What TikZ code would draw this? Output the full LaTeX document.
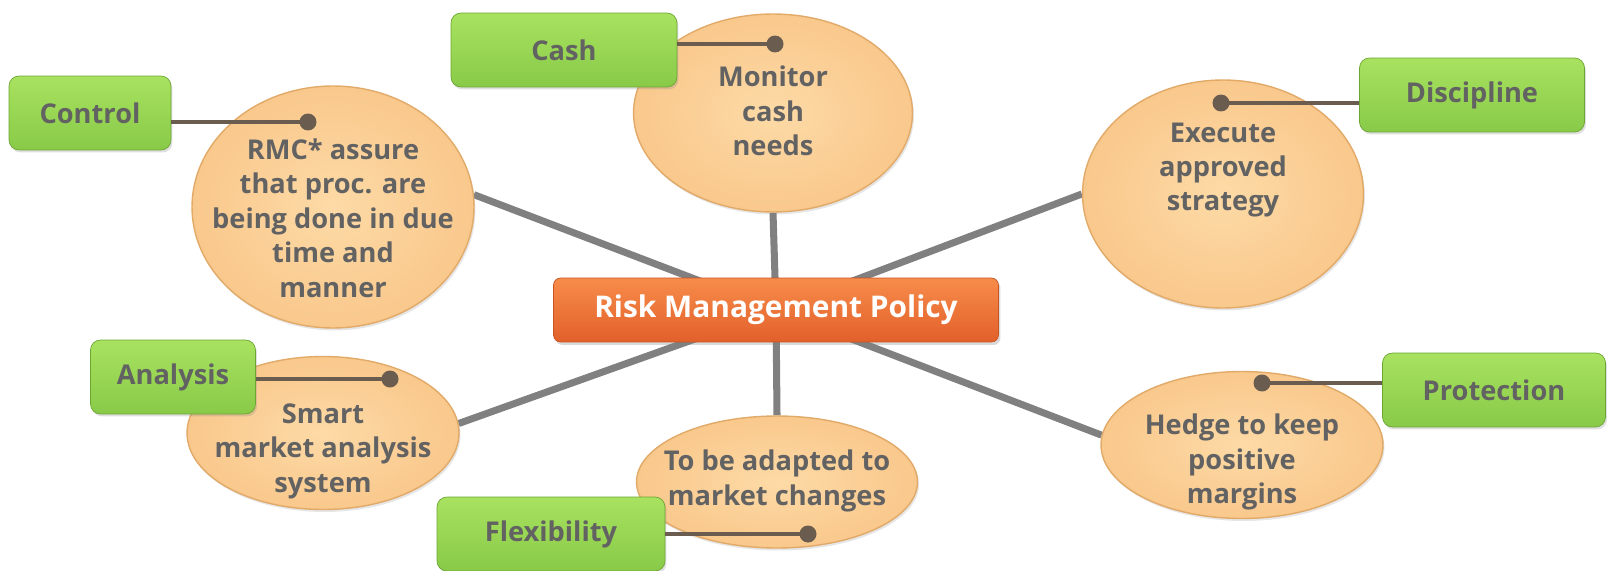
\documentclass[tikz,border=0pt]{standalone}
\usepackage{fontspec}
\setmainfont{Open Sans}
\usetikzlibrary{shapes.geometric, shadows, backgrounds}

\definecolor{txtgray}{RGB}{98,98,98}
\definecolor{hubtop}{RGB}{247,140,74}
\definecolor{hubbot}{RGB}{226,96,42}
\definecolor{hubedge}{RGB}{200,84,32}
\definecolor{ideain}{RGB}{253,218,166}
\definecolor{ideaout}{RGB}{249,200,140}
\definecolor{ideaedge}{RGB}{226,170,104}
\definecolor{tagtop}{RGB}{168,226,96}
\definecolor{tagbot}{RGB}{136,202,72}
\definecolor{tagedge}{RGB}{108,166,50}
\definecolor{spokegray}{RGB}{128,128,128}
\definecolor{linkbrown}{RGB}{106,92,78}

\tikzstyle{hub} = [rectangle, rounded corners=4pt, minimum width=8.9cm, minimum height=1.28cm, draw=hubedge, top color=hubtop, bottom color=hubbot, text=white, font=\bfseries\fontsize{17}{20}\selectfont, drop shadow={opacity=0.3, shadow xshift=0.04cm, shadow yshift=-0.06cm}]
\tikzstyle{idea} = [ellipse, inner sep=0pt, draw=ideaedge, line width=0.8pt, inner color=ideain, outer color=ideaout, drop shadow={opacity=0.2, shadow xshift=0.03cm, shadow yshift=-0.05cm}]
\tikzstyle{ideatext} = [align=center, text=txtgray, font=\bfseries\fontsize{15.5}{19.6}\selectfont]
\tikzstyle{tag} = [rectangle, rounded corners=0.2cm, minimum height=1.48cm, draw=tagedge, top color=tagtop, bottom color=tagbot, text=txtgray, font=\bfseries\fontsize{15.5}{19.6}\selectfont, drop shadow={opacity=0.25, shadow xshift=0.03cm, shadow yshift=-0.05cm}]
\tikzstyle{spoke} = [line width=4pt, draw=spokegray]
\tikzstyle{link} = [line width=2.8pt, draw=linkbrown]

\begin{document}
\begin{tikzpicture}[x=0.02cm, y=-0.02cm]
\useasboundingbox (0,0) rectangle (1609,571);

% ideas round the policy
\node (ctrlidea) [idea, minimum width=5.64cm, minimum height=4.84cm] at (333,207) {};
\node (cashidea) [idea, minimum width=5.58cm, minimum height=3.96cm] at (773,113) {};
\node (discidea) [idea, minimum width=5.62cm, minimum height=4.56cm] at (1223,194) {};
\node (anlsidea) [idea, minimum width=5.44cm, minimum height=3.06cm] at (323,433) {};
\node (flexidea) [idea, minimum width=5.62cm, minimum height=2.64cm] at (777,482) {};
\node (protidea) [idea, minimum width=5.64cm, minimum height=2.94cm] at (1242,445) {};

\node (ctrltext) [ideatext] at (333,218) {RMC* assure\\that proc. are\\being done in due\\time and\\manner};
\node (cashtext) [ideatext] at (773,111) {Monitor\\cash\\needs};
\node (disctext) [ideatext] at (1223,170) {Execute\\approved\\strategy};
\node (anlstext) [ideatext] at (323,451) {Smart\\market analysis\\system};
\node (flextext) [ideatext] at (777,481) {To be adapted to\\market changes};
\node (prottext) [ideatext] at (1242,462) {Hedge to keep\\positive\\margins};

\node (rmp) [hub] at (776,310) {Risk Management Policy};

% spokes
\begin{scope}[on background layer]
\draw [spoke] (rmp.center) -- (ctrlidea.5);
\draw [spoke] (rmp.center) -- (cashidea.south);
\draw [spoke] (rmp.center) -- (discidea.west);
\draw [spoke] (rmp.center) -- (anlsidea.4);
\draw [spoke] (rmp.center) -- (flexidea.north);
\draw [spoke] (rmp.center) -- (protidea.176);
\end{scope}

% tags
\node (control) [tag, minimum width=3.24cm] at (90,113) {Control};
\node (cash) [tag, minimum width=4.52cm] at (564,50) {Cash};
\node (discipline) [tag, minimum width=4.5cm] at (1472,95) {Discipline};
\node (analysis) [tag, minimum width=3.3cm] at (173,377) {Analysis};
\node (flexibility) [tag, minimum width=4.56cm] at (551,534) {Flexibility};
\node (protection) [tag, minimum width=4.46cm] at (1494,390) {Protection};

\coordinate (ctrldot) at (308,122);
\coordinate (cashdot) at (775,44);
\coordinate (discdot) at (1221,103);
\coordinate (anlsdot) at (390,379);
\coordinate (flexdot) at (808,534);
\coordinate (protdot) at (1262,383);

% links
\draw [link] (control.east |- ctrldot) -- (ctrldot);
\draw [link] (cash.east |- cashdot) -- (cashdot);
\draw [link] (discipline.west |- discdot) -- (discdot);
\draw [link] (analysis.east |- anlsdot) -- (anlsdot);
\draw [link] (flexibility.east |- flexdot) -- (flexdot);
\draw [link] (protection.west |- protdot) -- (protdot);
\foreach \d in {ctrldot, cashdot, discdot, anlsdot, flexdot, protdot}
  \fill [linkbrown] (\d) circle (0.17cm);

\end{tikzpicture}
\end{document}
